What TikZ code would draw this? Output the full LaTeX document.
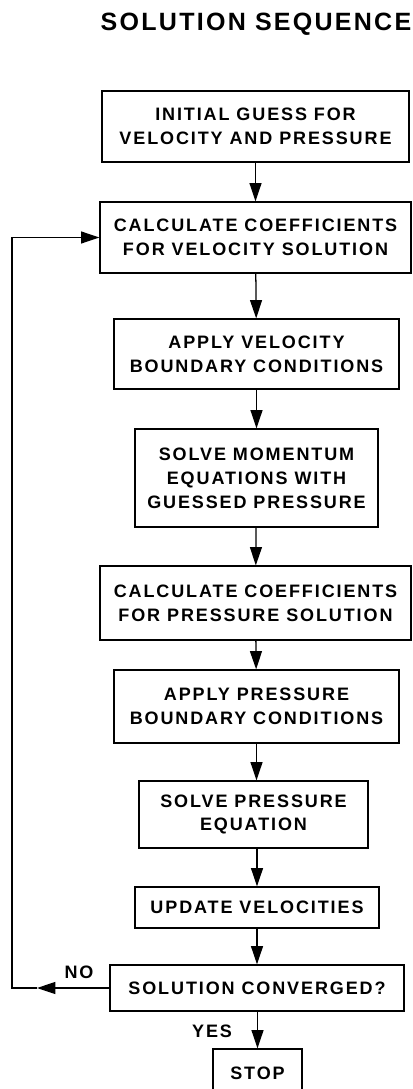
\documentclass[tikz,border=0pt]{standalone}
\usepackage{fontspec}
\newfontfamily\chartfont[LetterSpace=10.5]{Liberation Sans}
\newfontfamily\titlefont[LetterSpace=9]{Liberation Sans}
\usetikzlibrary{arrows.meta}
\begin{document}
\begin{tikzpicture}[x=0.025cm,y=-0.025cm,
    stepbox/.style={draw, line width=0.9pt, align=center, inner sep=0pt,
        font=\chartfont\bfseries\fontsize{12.8}{17}\selectfont},
    flow/.style={-{Triangle[length=13pt,width=8.5pt]}, line width=0.9pt},
    tag/.style={font=\chartfont\bfseries\fontsize{12.8}{17}\selectfont}]
    \useasboundingbox (0,0) rectangle (413,1089);

    \node[font=\titlefont\bfseries\fontsize{17.8}{20}\selectfont] (title) at (256,24) {SOLUTION SEQUENCE};

    \node[stepbox, minimum width=307*0.025cm, minimum height=71*0.025cm] (init) at (255.5,126.5) {INITIAL GUESS FOR\\VELOCITY AND PRESSURE};
    \node[stepbox, minimum width=311*0.025cm, minimum height=71*0.025cm] (velcoef) at (255.5,237.5) {CALCULATE COEFFICIENTS\\FOR VELOCITY SOLUTION};
    \node[stepbox, minimum width=285*0.025cm, minimum height=70*0.025cm] (velbc) at (256.5,354) {APPLY VELOCITY\\BOUNDARY CONDITIONS};
    \node[stepbox, minimum width=243*0.025cm, minimum height=98*0.025cm] (mom) at (256.5,478) {SOLVE MOMENTUM\\EQUATIONS WITH\\GUESSED PRESSURE};
    \node[stepbox, minimum width=311*0.025cm, minimum height=74*0.025cm] (prcoef) at (255.5,603) {CALCULATE COEFFICIENTS\\FOR PRESSURE SOLUTION};
    \node[stepbox, minimum width=285*0.025cm, minimum height=73*0.025cm] (prbc) at (256.5,706.5) {APPLY PRESSURE\\BOUNDARY CONDITIONS};
    \node[stepbox, minimum width=229*0.025cm, minimum height=67*0.025cm] (prsolve) at (253.5,814.5) {SOLVE PRESSURE\\EQUATION};
    \node[stepbox, minimum width=244*0.025cm, minimum height=41*0.025cm] (update) at (257,907.5) {UPDATE VELOCITIES};
    \node[stepbox, minimum width=294*0.025cm, minimum height=46*0.025cm] (conv) at (257,988) {SOLUTION CONVERGED?};
    \node[stepbox, minimum width=89*0.025cm, minimum height=48*0.025cm] (stop) at (257.5,1073) {STOP};

    \draw[flow] (init) -- (velcoef);
    \draw[flow] (velcoef) -- (velbc);
    \draw[flow] (velbc) -- (mom);
    \draw[flow] (mom) -- (prcoef);
    \draw[flow] (prcoef) -- (prbc);
    \draw[flow] (prbc) -- (prsolve.north -| prbc);
    \draw[flow] (prsolve.south -| update) -- (update);
    \draw[flow] (update) -- (conv);
    \draw[flow] (conv.south -| stop) -- (stop);

    % loop back when not converged
    \coordinate (notip) at (37,988);
    \coordinate (loopbot) at (12,988);
    \draw[flow] (conv.west) -- (notip);
    \draw[flow] (notip) -- (loopbot) |- (velcoef.west);

    \node[tag] (no) at (79,972) {NO};
    \node[tag] (yes) at (212,1031) {YES};
\end{tikzpicture}
\end{document}
